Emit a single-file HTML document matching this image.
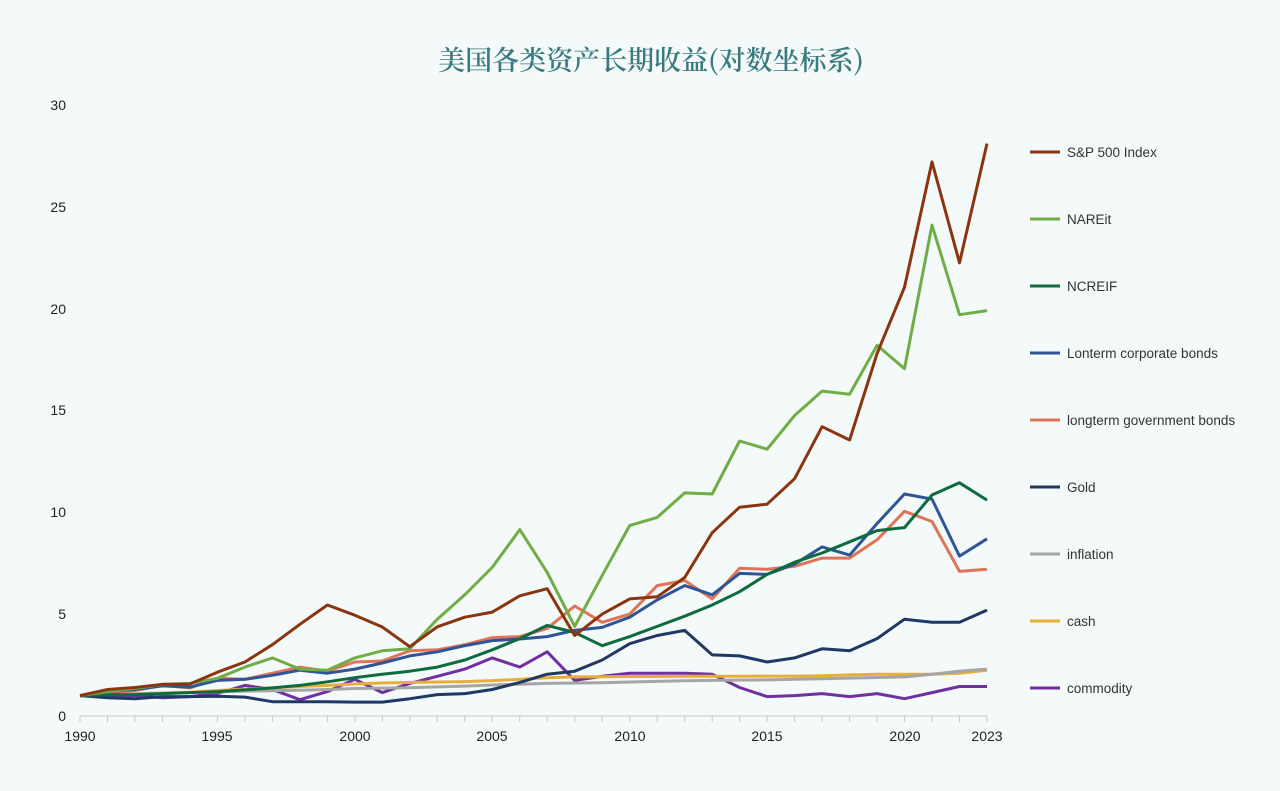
<!DOCTYPE html>
<html><head><meta charset="utf-8"><style>
body{margin:0;background:#F3FAF9;}
svg{display:block;font-family:"Liberation Sans","Noto Sans CJK SC",sans-serif;}
</style></head><body>
<svg id="c" width="1280" height="791" viewBox="0 0 1280 791">
<rect width="1280" height="791" fill="#F3FAF9"/>
<text x="651" y="70" text-anchor="middle" font-size="27" font-weight="600" fill="#3A7980" font-family="'Noto Serif CJK SC','Noto Sans CJK SC',serif">美国各类资产长期收益(对数坐标系)</text>
<g font-size="14" fill="#222" text-anchor="end">
<text x="66" y="721">0</text><text x="66" y="619">5</text><text x="66" y="517">10</text>
<text x="66" y="415">15</text><text x="66" y="314">20</text><text x="66" y="212">25</text><text x="66" y="110">30</text>
</g>
<g font-size="14" fill="#222" text-anchor="middle">
<text x="80" y="741">1990</text><text x="217" y="741">1995</text><text x="355" y="741">2000</text>
<text x="492" y="741">2005</text><text x="630" y="741">2010</text><text x="767" y="741">2015</text>
<text x="905" y="741">2020</text><text x="987" y="741">2023</text>
</g>
<g id="ax" stroke="#C8C8C8" stroke-width="1"><line x1="80" y1="716" x2="987" y2="716"/></g>
<g id="lines" fill="none" stroke-width="3" stroke-linejoin="round"></g>
<g font-size="13.5" fill="#333">
<text x="1067" y="157">S&amp;P 500 Index</text>
<text x="1067" y="224">NAREit</text>
<text x="1067" y="291">NCREIF</text>
<text x="1067" y="358">Lonterm corporate bonds</text>
<text x="1067" y="425">longterm government bonds</text>
<text x="1067" y="492">Gold</text>
<text x="1067" y="559">inflation</text>
<text x="1067" y="626">cash</text>
<text x="1067" y="693">commodity</text>
</g>
<g id="leg" stroke-width="3"></g>
</svg>
<script>
var S=[
["#8B3510",[1,1.3,1.4,1.55,1.57,2.15,2.65,3.5,4.5,5.45,4.95,4.37,3.4,4.38,4.85,5.1,5.9,6.25,3.95,5,5.75,5.85,6.8,9,10.25,10.4,11.65,14.2,13.55,17.8,21.05,27.2,22.25,28.1]],
["#70AD47",[1,1.2,1.35,1.55,1.6,1.85,2.4,2.85,2.3,2.25,2.85,3.2,3.3,4.75,5.95,7.3,9.15,7.05,4.4,6.9,9.35,9.75,10.95,10.9,13.5,13.1,14.75,15.95,15.8,18.2,17.05,24.1,19.7,19.9]],
["#0E6B3E",[1,1.05,1.05,1.1,1.15,1.2,1.28,1.38,1.5,1.68,1.88,2.05,2.2,2.4,2.75,3.25,3.8,4.45,4.1,3.45,3.9,4.4,4.9,5.45,6.1,6.95,7.55,8,8.55,9.1,9.25,10.85,11.45,10.6]],
["#2F5597",[1,1.2,1.3,1.48,1.42,1.75,1.8,2,2.25,2.1,2.3,2.6,2.95,3.15,3.45,3.7,3.78,3.9,4.2,4.35,4.85,5.7,6.4,5.95,7,6.95,7.45,8.3,7.9,9.45,10.9,10.65,7.85,8.7]],
["#E07458",[1,1.15,1.25,1.5,1.38,1.85,1.8,2.1,2.4,2.2,2.65,2.7,3.2,3.25,3.5,3.85,3.9,4.3,5.4,4.6,5,6.4,6.65,5.75,7.25,7.2,7.35,7.75,7.75,8.65,10.05,9.55,7.1,7.2]],
["#203864",[1,0.9,0.85,0.95,0.95,0.97,0.93,0.7,0.7,0.7,0.68,0.68,0.85,1.05,1.1,1.3,1.65,2.05,2.2,2.75,3.55,3.95,4.2,3,2.95,2.65,2.85,3.3,3.2,3.8,4.75,4.6,4.6,5.2]],
["#A5A5A5",[1,1.05,1.08,1.12,1.15,1.18,1.22,1.24,1.26,1.3,1.35,1.37,1.39,1.43,1.47,1.52,1.56,1.6,1.62,1.63,1.67,1.7,1.73,1.75,1.76,1.77,1.8,1.83,1.86,1.89,1.92,2.05,2.2,2.3]],
["#E8AE3A",[1,1.06,1.1,1.13,1.17,1.25,1.32,1.38,1.45,1.5,1.57,1.62,1.65,1.67,1.69,1.74,1.8,1.88,1.92,1.93,1.94,1.94,1.95,1.95,1.95,1.96,1.96,1.98,2.02,2.05,2.05,2.05,2.1,2.25]],
["#7030A0",[1,1,1,0.9,0.95,1.1,1.5,1.3,0.8,1.2,1.8,1.15,1.6,1.95,2.3,2.85,2.4,3.15,1.75,1.95,2.1,2.1,2.1,2.05,1.4,0.95,1,1.1,0.95,1.1,0.85,1.15,1.45,1.45]]
];
var ns="http://www.w3.org/2000/svg",L=document.getElementById("lines"),G=document.getElementById("leg"),A=document.getElementById("ax");
for(var i=0;i<=33;i++){var x=80+i*907/33;var t=document.createElementNS(ns,"line");t.setAttribute("x1",x);t.setAttribute("x2",x);t.setAttribute("y1",716);t.setAttribute("y2",722);A.appendChild(t);}
for(var k=S.length-1;k>=0;k--){var d=S[k][1].map(function(v,i){return (80+i*907/33).toFixed(1)+","+(716-v*20.37).toFixed(1)}).join(" ");
var p=document.createElementNS(ns,"polyline");p.setAttribute("points",d);p.setAttribute("stroke",S[k][0]);L.appendChild(p);
var l=document.createElementNS(ns,"line");var y=152+67*k;l.setAttribute("x1",1030);l.setAttribute("x2",1060);l.setAttribute("y1",y);l.setAttribute("y2",y);l.setAttribute("stroke",S[k][0]);G.appendChild(l);}
</script>
</body></html>
